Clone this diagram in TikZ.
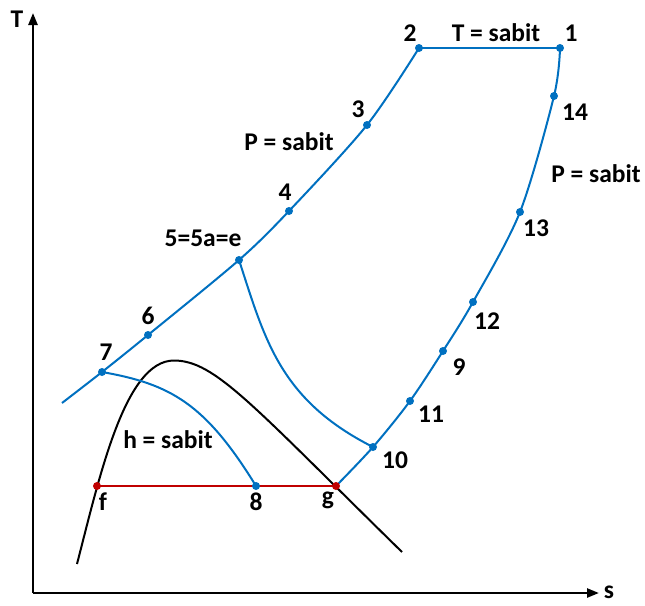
\documentclass[tikz,border=0pt]{standalone}
\usepackage{fontspec}
\setmainfont{Carlito}
\usetikzlibrary{arrows.meta}
\definecolor{cblue}{RGB}{0,112,192}
\definecolor{cred}{RGB}{192,0,0}
\tikzset{
  lbl/.style={font=\fontsize{25.5}{30}\selectfont\bfseries, inner sep=0pt},
  bline/.style={cblue, line width=2pt},
  dot/.style={circle, fill=cblue, inner sep=0pt, minimum size=8pt},
  rdot/.style={circle, fill=cred, inner sep=0pt, minimum size=8pt},
  axis/.style={line width=2.4pt, -{Triangle[length=12pt,width=9pt]}},
}
\begin{document}
\begin{tikzpicture}[x=1pt,y=-1pt]
\useasboundingbox (0,0) rectangle (645,605);
% axes
\coordinate (O) at (33,593);
\coordinate (Ty) at (33,13);
\coordinate (Sx) at (599,593);
\draw[axis] (O) -- (Ty);
\draw[axis] (O) -- (Sx);
\node[lbl] (tlab) at (17,19) {T};
\node[lbl] (slab) at (609,592) {s};
% points
\coordinate (p1) at (560,48);
\coordinate (p2) at (419,48);
\coordinate (p3) at (367,125);
\coordinate (p4) at (289,211);
\coordinate (p5) at (239,260);
\coordinate (p6) at (148,335);
\coordinate (p7) at (102,372);
\coordinate (pe) at (62,403);
\coordinate (p14) at (554,96);
\coordinate (p13) at (520,212);
\coordinate (p12) at (473,302);
\coordinate (p9) at (443,351);
\coordinate (p11) at (410,401);
\coordinate (p10) at (373,447);
\coordinate (pg) at (336,486);
\coordinate (p8) at (256,486);
\coordinate (pf) at (97,486);
\coordinate (dl) at (77,564);
\coordinate (dt) at (174,360.5);
\coordinate (dr) at (402,552);
% saturation dome
\draw[black, line width=2pt] (dl) .. controls (100,475) and (125,360.5) .. (dt)
  .. controls (215,360.5) and (252,405) .. (dr);
% blue curves
\draw[bline] (p2) -- (p1);
\draw[bline] plot[smooth, tension=0.5] coordinates {(p2) (p3) (p4) (p5) (p6) (p7) (pe)};
\draw[bline] plot[smooth, tension=0.5] coordinates {(p1) (p14) (p13) (p12) (p9) (p11) (p10) (pg)};
\draw[bline] (p5) .. controls (265,340) and (280,400) .. (p10);
\draw[bline] (p7) .. controls (170,384) and (205,403) .. (p8);
% red line
\draw[cred, line width=2pt] (pf) -- (pg);
% dots
\foreach \p in {p1,p2,p3,p4,p5,p6,p7,p14,p13,p12,p9,p11,p10,p8}
  \node[dot] at (\p) {};
\node[rdot] at (pf) {};
\node[rdot] at (pg) {};
% labels
\node[lbl] (l1) at (571,33) {1};
\node[lbl] (l2) at (410,33) {2};
\node[lbl] (lt) at (496,33) {T = sabit};
\node[lbl] (l3) at (358,109) {3};
\node[lbl] (lp1) at (289,142) {P = sabit};
\node[lbl] (l4) at (285,192) {4};
\node[lbl] (l5) at (203,238) {5=5a=e};
\node[lbl] (l6) at (148,316) {6};
\node[lbl] (l7) at (106,352) {7};
\node[lbl] (l14) at (575,112) {14};
\node[lbl] (lp2) at (596,174) {P = sabit};
\node[lbl] (l13) at (536,228) {13};
\node[lbl] (l12) at (487,321) {12};
\node[lbl] (l9) at (459,367) {9};
\node[lbl] (l11) at (431,414) {11};
\node[lbl] (l10) at (395,460) {10};
\node[lbl] (lh) at (168,440) {h = sabit};
\node[lbl] (lf) at (103,502) {f};
\node[lbl] (l8) at (256,502) {8};
\node[lbl] (lg) at (328,500) {g};
\end{tikzpicture}
\end{document}
